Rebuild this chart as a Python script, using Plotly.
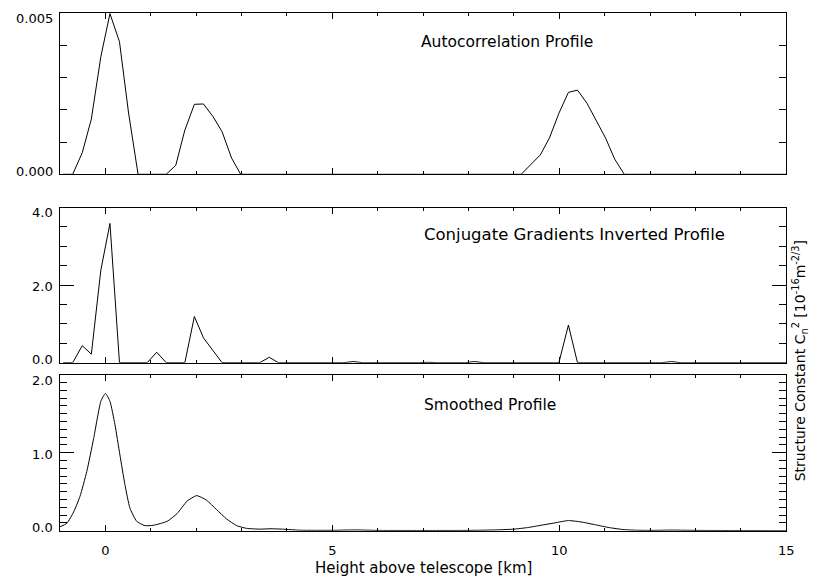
import plotly.graph_objects as go

# ---------------- data ----------------
# Autocorrelation profile
x_ac = [-0.93, -0.72, -0.51, -0.31, -0.10, 0.10, 0.31, 0.51, 0.72, 1.34, 1.55, 1.75, 1.96,
        2.16, 2.37, 2.57, 2.78, 2.98, 9.16, 9.37, 9.58, 9.78, 9.99, 10.20, 10.40, 10.61,
        10.81, 11.02, 11.22, 11.43, 15.0]
y_ac = [0, 0, 0.00067, 0.00171, 0.00365, 0.00498, 0.00411, 0.0019, 0, 0, 0.00028, 0.00137,
        0.00217, 0.00218, 0.00179, 0.00132, 0.0005, 0, 0, 0.0003, 0.0006, 0.00112, 0.00189,
        0.00254, 0.00261, 0.0022, 0.00168, 0.00112, 0.00047, 0, 0]

# Conjugate gradients inverted profile
x_cg = [-0.93, -0.72, -0.51, -0.31, -0.10, 0.10, 0.31, 0.92, 1.13, 1.34, 1.75, 1.96, 2.16,
        2.37, 2.57, 3.40, 3.61, 3.81, 5.25, 5.46, 5.67, 6.90, 7.11, 7.31, 7.93, 8.13, 8.34,
        9.99, 10.20, 10.40, 12.26, 12.47, 12.67, 15.0]
y_cg = [0, 0, 0.44, 0.22, 2.39, 3.59, 0, 0, 0.27, 0, 0, 1.19, 0.64, 0.32, 0, 0, 0.14, 0,
        0, 0.03, 0, 0, 0.01, 0, 0, 0.03, 0, 0, 0.97, 0, 0, 0.03, 0, 0]

# Smoothed profile
x_sm = [-1.0, -0.85, -0.70, -0.56, -0.41, -0.26, -0.10, 0.0, 0.10, 0.21, 0.32, 0.43, 0.54,
        0.69, 0.87, 1.06, 1.36, 1.58, 1.80, 2.01, 2.23, 2.45, 2.67, 2.89, 3.11, 3.41, 3.65,
        3.9, 4.3, 5.0, 5.5, 6.0, 7.0, 8.0, 8.6, 9.0, 9.3, 9.6, 9.9, 10.2, 10.5, 10.8, 11.1,
        11.4, 11.7, 12.0, 12.5, 13.0, 14.0, 15.0]
y_sm = [0.05, 0.095, 0.24, 0.44, 0.76, 1.18, 1.66, 1.76, 1.66, 1.36, 0.97, 0.59, 0.29,
        0.12, 0.065, 0.07, 0.12, 0.22, 0.38, 0.45, 0.39, 0.27, 0.15, 0.065, 0.03, 0.02, 0.025,
        0.02, 0.006, 0.005, 0.01, 0.004, 0.003, 0.004, 0.01, 0.02, 0.04, 0.07, 0.1, 0.13,
        0.11, 0.075, 0.04, 0.015, 0.006, 0.004, 0.008, 0.004, 0.002, 0.0]

x_ticks = [0, 5, 10, 15]
y_ticks = [[0, 0.005], [0, 2, 4], [0, 1, 2]]
y_ticktext = [["0.000", "0.005"], ["0.0", "2.0", "4.0"], ["0.0", "1.0", "2.0"]]
y_ranges = [[0, 0.005], [0, 4], [0, 2]]
y_minor = [0.001, 0.5, 0.1]
panel_titles = ["Autocorrelation Profile", "Conjugate Gradients Inverted Profile", "Smoothed Profile"]
x_title = "Height above telescope [km]"
y_title = "Structure Constant C<sub>n</sub><sup>2</sup> [10<sup>-16</sup>m<sup>-2/3</sup>]"

# ---------------- figure ----------------
W, H = 816, 581
SX = 786.0 / 778.0          # horizontal correction measured on the rendered page
FONT = "DejaVu Sans"
fig = go.Figure()

series = [(x_ac, y_ac, "linear"), (x_cg, y_cg, "linear"), (x_sm, y_sm, "spline")]
for i, (xs, ys, shape) in enumerate(series):
    sfx = "" if i == 0 else str(i + 1)
    line = dict(color="black", width=1, shape=shape)
    if shape == "spline":
        line["smoothing"] = 0.5
    fig.add_trace(go.Scatter(x=xs, y=ys, mode="lines", line=line,
                             xaxis="x" + sfx, yaxis="y" + sfx, showlegend=False))

def px_x(p):
    return p * SX / W

def ydom(top_px, bot_px):
    return [(H - bot_px) / H, (H - top_px) / H]

xl, xr = px_x(60), px_x(786)
panel_px = [(13, 174.3), (207.5, 362.7), (374.7, 530.7)]

layout = dict(width=W, height=H, margin=dict(l=0, r=0, t=0, b=0),
              paper_bgcolor="white", plot_bgcolor="white")
for i in range(3):
    sfx = "" if i == 0 else str(i + 1)
    layout["xaxis" + sfx] = dict(
        range=[-1, 15], domain=[xl, xr], anchor="y" + sfx,
        showline=True, linecolor="black", linewidth=1, mirror="ticks",
        ticks="inside", ticklen=6, tickcolor="black", tickwidth=1,
        tickvals=x_ticks, showgrid=False, zeroline=False,
        minor=dict(dtick=1, ticks="inside", ticklen=3, tickcolor="black", showgrid=False),
        showticklabels=(i == 2), ticklabelstandoff=8,
        tickfont=dict(family=FONT, size=13, color="black"))
    layout["yaxis" + sfx] = dict(
        domain=ydom(*panel_px[i]), range=y_ranges[i], anchor="x" + sfx,
        showline=True, linecolor="black", linewidth=1, mirror="ticks",
        ticks="inside", ticklen=14, tickcolor="black", tickwidth=1,
        tickvals=y_ticks[i], showticklabels=False, showgrid=False, zeroline=False,
        minor=dict(dtick=y_minor[i], ticks="inside", ticklen=7, tickcolor="black", showgrid=False))
fig.update_layout(**layout)

# y tick labels, IDL style: end labels kept inside the panel
tick_font = dict(family=FONT, size=13, color="black")
for i in range(3):
    sfx = "" if i == 0 else str(i + 1)
    lo, hi = y_ranges[i]
    for v, t in zip(y_ticks[i], y_ticktext[i]):
        if v == hi:
            ya, ysh = "top", 4
        elif v == lo:
            ya, ysh = "bottom", -6.5
        else:
            ya, ysh = "middle", -1.5
        fig.add_annotation(text=t, xref="paper", yref="y" + sfx, x=xl, y=v, xanchor="right",
                           yanchor=ya, xshift=-5, yshift=ysh, showarrow=False, font=tick_font)

title_pos = [(6.9, 42), (6.98, 235), (6.98, 405)]
title_size = [15.5, 16.5, 15.5]
for i in range(3):
    sfx = "" if i == 0 else str(i + 1)
    fig.add_annotation(text=panel_titles[i], xref="x" + sfx, yref="paper", x=title_pos[i][0],
                       y=(H - title_pos[i][1]) / H, xanchor="left", yanchor="middle",
                       showarrow=False, font=dict(family=FONT, size=title_size[i], color="black"))

fig.add_annotation(text=x_title, xref="paper", yref="paper", x=(xl + xr) / 2, y=(H - 567.5) / H,
                   xanchor="center", yanchor="middle", showarrow=False,
                   font=dict(family=FONT, size=15, color="black"))
fig.add_annotation(text=y_title, xref="paper", yref="paper", x=px_x(800), y=(H - 361) / H,
                   xanchor="center", yanchor="middle", showarrow=False, textangle=-90,
                   font=dict(family=FONT, size=14, color="black"))

fig.write_html("out.html",
               post_script="document.body.style.margin='0px';document.body.style.overflow='hidden';")
